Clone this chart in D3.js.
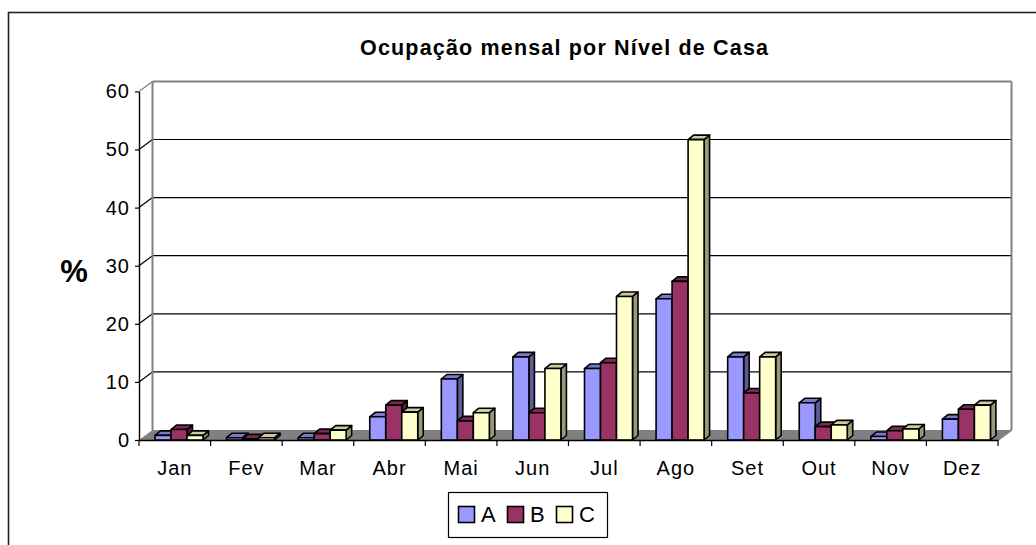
<!DOCTYPE html>
<html>
<head>
<meta charset="utf-8">
<script src="https://cdn.jsdelivr.net/npm/d3@7"></script>
<style>
  body { margin: 0; background: #fff; }
  text { font-family: "Liberation Sans", Arial, sans-serif; }
</style>
</head>
<body>
<div id="chart"></div>
<script>
// data
var months = ["Jan", "Fev", "Mar", "Abr", "Mai", "Jun", "Jul", "Ago", "Set", "Out", "Nov", "Dez"];
var seriesNames = ["A", "B", "C"];
var valuesA = [0.8, 0.4, 0.4, 4.0, 10.5, 14.3, 12.3, 24.3, 14.3, 6.4, 0.6, 3.6];
var valuesB = [1.8, 0.2, 1.1, 6.0, 3.3, 4.7, 13.3, 27.3, 8.1, 2.3, 1.6, 5.3];
var valuesC = [0.8, 0.4, 1.7, 4.8, 4.7, 12.3, 24.7, 51.7, 14.3, 2.6, 1.9, 6.0];
var yTicks = [0, 10, 20, 30, 40, 50, 60];

var front = { A: "#9999FF", B: "#993366", C: "#FFFFCC" };
var side  = { A: "#5C5C99", B: "#5C1F3D", C: "#99997A" };
var top_  = { A: "#7A7ACC", B: "#7A2952", C: "#CCCCA3" };

var W = 1036, H = 545;
var DX = 13.5, DY = -10;      // wall depth
var bdx = 5.5, bdy = -4.5;    // bar depth

var svg = d3.select("#chart").append("svg")
  .attr("width", W).attr("height", H);

// chart frame (runs off the right and bottom)
svg.append("rect")
  .attr("x", 8.5).attr("y", 12.5)
  .attr("width", 1040).attr("height", 560)
  .attr("fill", "none").attr("stroke", "#222").attr("stroke-width", 1.6);

var x = d3.scaleBand().domain(months).range([139, 998]);
var xs = d3.scaleBand().domain(seriesNames).range([16, 64]);
var y = d3.scaleLinear().domain([0, 60]).range([440, 91.4]);

var x0 = x.range()[0], x1 = x.range()[1];

// floor
svg.append("polygon")
  .attr("points", [[x0, y(0)], [x0 + DX, y(0) + DY], [x1 + DX, y(0) + DY], [x1, y(0)]].join(" "))
  .attr("fill", "#808080");

// back wall gridlines
svg.selectAll("line.grid")
  .data(yTicks.filter(function(d) { return d > 0 && d < 60; }))
  .enter().append("line")
  .attr("x1", x0 + DX).attr("x2", x1 + DX)
  .attr("y1", function(d) { return y(d) + DY; })
  .attr("y2", function(d) { return y(d) + DY; })
  .attr("stroke", "#000").attr("stroke-width", 1.2);

// left wall diagonals
svg.selectAll("line.diag")
  .data(yTicks.filter(function(d) { return d > 0; }))
  .enter().append("line")
  .attr("x1", x0).attr("x2", x0 + DX)
  .attr("y1", function(d) { return y(d); })
  .attr("y2", function(d) { return y(d) + DY; })
  .attr("stroke", function(d) { return d == 60 ? "#808080" : "#000"; })
  .attr("stroke-width", 1.2);

// wall edges
var edges = [
  [x0 + DX, y(60) + DY, x1 + DX, y(60) + DY],
  [x0 + DX, y(60) + DY, x0 + DX, y(0) + DY],
  [x1 + DX, y(60) + DY, x1 + DX, y(0) + DY],
  [x1 + DX, y(0) + DY, x1, y(0)]
];
svg.selectAll("line.edge").data(edges).enter().append("line")
  .attr("x1", function(d) { return d[0]; }).attr("y1", function(d) { return d[1]; })
  .attr("x2", function(d) { return d[2]; }).attr("y2", function(d) { return d[3]; })
  .attr("stroke", "#808080").attr("stroke-width", 2);

// bars
var rows = months.map(function(m, i) {
  return { month: m, A: valuesA[i], B: valuesB[i], C: valuesC[i] };
});

rows.forEach(function(r) {
  seriesNames.forEach(function(s) {
    var bx = x(r.month) + xs(s), bw = xs.bandwidth();
    var by = y(r[s]), b0 = y(0);
    var g = svg.append("g")
      .attr("stroke", "#000").attr("stroke-width", 1.6).attr("stroke-linejoin", "round");
    g.append("polygon")
      .attr("points", [[bx + bw, b0], [bx + bw + bdx, b0 + bdy], [bx + bw + bdx, by + bdy], [bx + bw, by]].join(" "))
      .attr("fill", side[s]);
    g.append("polygon")
      .attr("points", [[bx, by], [bx + bdx, by + bdy], [bx + bw + bdx, by + bdy], [bx + bw, by]].join(" "))
      .attr("fill", top_[s]);
    g.append("rect")
      .attr("x", bx).attr("y", by)
      .attr("width", bw).attr("height", b0 - by)
      .attr("fill", front[s]);
  });
});

// y axis
var yAxis = svg.append("g")
  .attr("transform", "translate(" + x0 + ",0)")
  .call(d3.axisLeft(y).tickValues(yTicks).tickSize(4).tickSizeOuter(0).tickPadding(5));
yAxis.select(".domain").attr("stroke", "#000").attr("stroke-width", 1.4);
yAxis.selectAll(".tick line").attr("stroke", "#000").attr("stroke-width", 1.2);
yAxis.selectAll(".tick text")
  .attr("font-family", "Liberation Sans, Arial, sans-serif")
  .attr("font-size", 20).attr("letter-spacing", 1).attr("fill", "#000");

// x axis
var xAxis = svg.append("g")
  .attr("transform", "translate(0," + y(0) + ")")
  .call(d3.axisBottom(x).tickSize(0).tickSizeOuter(0).tickPadding(21));
xAxis.select(".domain").attr("stroke", "#000").attr("stroke-width", 1.4);
xAxis.selectAll(".tick text")
  .attr("font-family", "Liberation Sans, Arial, sans-serif")
  .attr("font-size", 20).attr("letter-spacing", 1).attr("fill", "#000");

// category separator ticks
svg.selectAll("line.xt")
  .data(months.map(function(m) { return x(m); }).concat([x1]))
  .enter().append("line")
  .attr("x1", function(d) { return d; }).attr("x2", function(d) { return d; })
  .attr("y1", y(0)).attr("y2", y(0) + 6)
  .attr("stroke", "#000").attr("stroke-width", 1.2);

// title
svg.append("text")
  .attr("x", 564).attr("y", 55)
  .attr("text-anchor", "middle")
  .attr("font-size", 21.5).attr("font-weight", "bold")
  .attr("textLength", 408).attr("lengthAdjust", "spacing")
  .text("Ocupação mensal por Nível de Casa");

// y label
svg.append("text")
  .attr("x", 74).attr("y", 282)
  .attr("text-anchor", "middle")
  .attr("font-size", 31).attr("font-weight", "bold")
  .text("%");

// legend
var legend = svg.append("g");
legend.append("rect")
  .attr("x", 448.5).attr("y", 492.5).attr("width", 159).attr("height", 45)
  .attr("fill", "#fff").attr("stroke", "#000").attr("stroke-width", 1.2);
var lx = d3.scalePoint().domain(seriesNames).range([458, 556]);
seriesNames.forEach(function(s) {
  legend.append("rect")
    .attr("x", lx(s) + 0.5).attr("y", 506.5).attr("width", 16).attr("height", 16)
    .attr("fill", front[s]).attr("stroke", "#000").attr("stroke-width", 1.6);
  legend.append("text")
    .attr("x", lx(s) + 23).attr("y", 522)
    .attr("font-size", 22)
    .text(s);
});
</script>
</body>
</html>
